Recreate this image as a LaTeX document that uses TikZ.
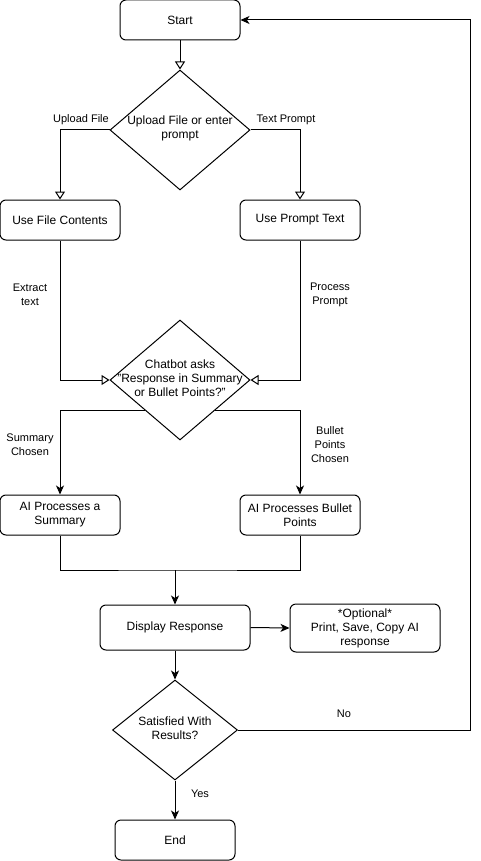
\documentclass[tikz,border=0pt]{standalone}
\usepackage{fontspec}
\setmainfont{Liberation Sans}
\usetikzlibrary{arrows.meta,shapes.geometric}
\begin{document}
\begin{tikzpicture}[x=1pt,y=-1pt,line width=1pt,
  box/.style={draw,rounded corners=6pt,align=center,inner sep=2pt,font=\fontsize{12}{14}\selectfont},
  dia/.style={draw,diamond,inner sep=0pt},
  dtext/.style={align=center,font=\fontsize{12}{14}\selectfont},
  lbl/.style={align=center,font=\fontsize{11}{14}\selectfont},
  openarr/.style={-{Triangle[open,length=8pt,width=10pt]}},
  fillarr/.style={-{Stealth[length=9pt,width=8pt,inset=2.5pt]}}]
\useasboundingbox (0,0) rectangle (480,861);
% nodes
\node[box,minimum width=120pt,minimum height=40pt] (start) at (180,20) {Start};
\node[dia,minimum width=140pt,minimum height=120pt] (d1) at (180,130) {};
\node[dtext] (d1t) at (180,128) {Upload File or enter\\prompt};
\node[box,minimum width=120pt,minimum height=40pt] (ufc) at (60,220) {Use File Contents};
\node[box,minimum width=120pt,minimum height=40pt] (upt) at (300,220) {Use Prompt Text};
\node[dia,minimum width=140pt,minimum height=120pt] (d2) at (180,380) {};
\node[dtext] (d2t) at (180,378) {Chatbot asks\\"Response in Summary\\or Bullet Points?"};
\node[box,minimum width=120pt,minimum height=40pt] (sum) at (60,515) {AI Processes a\\Summary};
\node[box,minimum width=120pt,minimum height=40pt] (bp) at (300,515) {AI Processes Bullet\\Points};
\coordinate (m) at (175,570);
\node[box,minimum width=150pt,minimum height=45pt] (disp) at (175,627.5) {Display Response};
\node[box,minimum width=150pt,minimum height=48pt] (opt) at (365,628) {*Optional*\\Print, Save, Copy AI\\response};
\node[dia,minimum width=125pt,minimum height=100pt] (d3) at (175,730) {};
\node[dtext] (d3t) at (175,728) {Satisfied With\\Results?};
\node[box,minimum width=120pt,minimum height=40pt] (end) at (175,840) {End};
\coordinate (nr) at (470,730);
% edges
\draw[openarr] (start.south) -- (d1.north);
\draw[openarr] (d1.west) -| (ufc.north);
\draw[openarr] (d1.east) -| (upt.north);
\draw[openarr] (ufc.south) |- (d2.west);
\draw[openarr] (upt.south) |- (d2.east);
\draw[fillarr] (d2.south west) -| (sum.north);
\draw[fillarr] (d2.south east) -| (bp.north);
\draw (sum.south) |- (m) -| (bp.south);
\draw[fillarr] (m) -- (disp.north);
\draw[fillarr] (disp.east) -- (opt.west);
\draw[fillarr] (disp.south) -- (d3.north);
\draw[fillarr] (d3.south) -- (end.north);
\draw[fillarr] (d3.east) -- (nr) |- (start.east);
% labels
\node[lbl] (l1) at (81,120) {Upload File};
\node[lbl] (l2) at (286,120) {Text Prompt};
\node[lbl] (l3) at (30,295) {Extract\\text};
\node[lbl] (l4) at (330,295) {Process\\Prompt};
\node[lbl] (l5) at (30,445) {Summary\\Chosen};
\node[lbl] (l6) at (330,445) {Bullet\\Points\\Chosen};
\node[lbl] (l7) at (200,794) {Yes};
\node[lbl] (l8) at (344,714) {No};
\end{tikzpicture}
\end{document}
